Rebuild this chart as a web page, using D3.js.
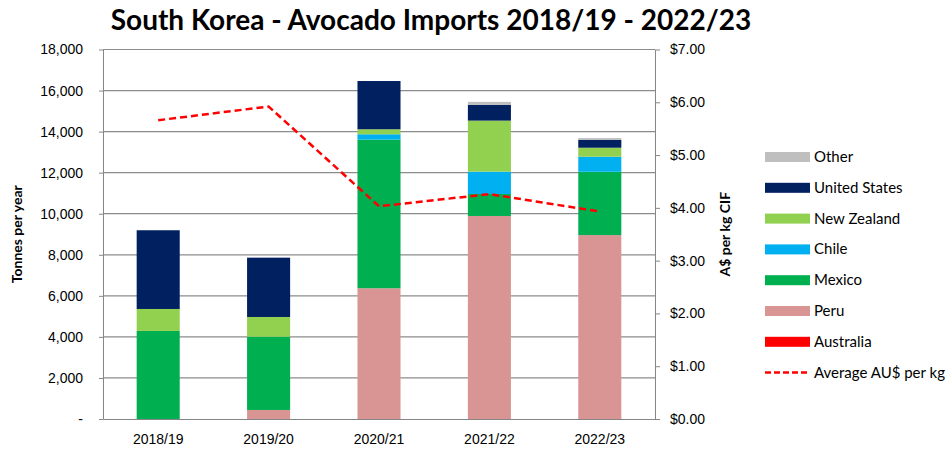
<!DOCTYPE html>
<html>
<head>
<meta charset="utf-8">
<script src="https://cdn.jsdelivr.net/npm/d3@7"></script>
<style>
  body { margin: 0; background: #fff; }
  svg { display: block; font-family: Lato, "Open Sans", sans-serif; }
  .axis text { font-size: 14px; fill: #000; }
  .axis path, .axis line { stroke: #868686; }
</style>
</head>
<body>
<div id="chart"></div>
<script>
// Data
const categories = ["2018/19", "2019/20", "2020/21", "2021/22", "2022/23"];
const australia = [0, 0, 0, 0, 0];
const peru = [0, 440, 6370, 9890, 8960];
const mexico = [4290, 3570, 7240, 1070, 3085];
const chile = [0, 0, 260, 1090, 730];
const newZealand = [1070, 960, 245, 2485, 440];
const unitedStates = [3835, 2890, 2350, 765, 390];
const other = [0, 0, 0, 150, 80];
const avgPrice = [5.66, 5.92, 4.03, 4.26, 3.93];

const leftTicks = [0, 2000, 4000, 6000, 8000, 10000, 12000, 14000, 16000, 18000];
const rightTicks = [0, 1, 2, 3, 4, 5, 6, 7];

const series = [
  { key: "Australia", values: australia, color: "#FF0000" },
  { key: "Peru", values: peru, color: "#D99594" },
  { key: "Mexico", values: mexico, color: "#00B050" },
  { key: "Chile", values: chile, color: "#00B0F0" },
  { key: "New Zealand", values: newZealand, color: "#92D050" },
  { key: "United States", values: unitedStates, color: "#002060" },
  { key: "Other", values: other, color: "#BFBFBF" }
];

const width = 952, height = 452;
const plot = { left: 103, right: 655, top: 49.5, bottom: 419 };

const svg = d3.select("#chart").append("svg")
  .attr("width", width)
  .attr("height", height);

// table for the stack
const table = categories.map((c, i) => {
  const row = { cat: c };
  series.forEach(s => row[s.key] = s.values[i]);
  return row;
});

const x = d3.scaleBand()
  .domain(categories)
  .range([plot.left, plot.right])
  .paddingInner(0.61)
  .paddingOuter(0.305);

const y = d3.scaleLinear().domain([0, 18000]).range([plot.bottom, plot.top]);
const y2 = d3.scaleLinear().domain([0, 7]).range([plot.bottom, plot.top]);

// gridlines
svg.append("g")
  .selectAll("line")
  .data(leftTicks.filter(d => d > 0))
  .join("line")
  .attr("x1", plot.left).attr("x2", plot.right)
  .attr("y1", d => y(d)).attr("y2", d => y(d))
  .attr("stroke", "#8c8c8c")
  .attr("stroke-width", 1.2);

// bars
const stacked = d3.stack().keys(series.map(s => s.key))(table);
const colorOf = d3.scaleOrdinal().domain(series.map(s => s.key)).range(series.map(s => s.color));

svg.append("g")
  .selectAll("g")
  .data(stacked)
  .join("g")
  .attr("fill", d => colorOf(d.key))
  .selectAll("rect")
  .data(d => d)
  .join("rect")
  .attr("x", d => x(d.data.cat))
  .attr("y", d => y(d[1]))
  .attr("width", x.bandwidth())
  .attr("height", d => y(d[0]) - y(d[1]));

// left axis
svg.append("g")
  .attr("class", "axis")
  .attr("transform", `translate(${plot.left},0)`)
  .call(d3.axisLeft(y).tickValues(leftTicks).tickSize(4).tickSizeOuter(0).tickPadding(16)
    .tickFormat(d => d === 0 ? "-" : d3.format(",")(d)));

// right axis
svg.append("g")
  .attr("class", "axis")
  .attr("transform", `translate(${plot.right},0)`)
  .call(d3.axisRight(y2).tickValues(rightTicks).tickSize(5).tickSizeOuter(0).tickPadding(10)
    .tickFormat(d => "$" + d3.format(".2f")(d)));

// bottom axis
svg.append("g")
  .attr("class", "axis")
  .attr("transform", `translate(0,${plot.bottom})`)
  .call(d3.axisBottom(x).tickSize(0).tickSizeOuter(0).tickPadding(15));

// line
const line = d3.line()
  .x((d, i) => x(categories[i]) + x.bandwidth() / 2)
  .y(d => y2(d));

svg.append("path")
  .datum(avgPrice)
  .attr("d", line)
  .attr("fill", "none")
  .attr("stroke", "#FF0000")
  .attr("stroke-width", 2.5)
  .attr("stroke-dasharray", "7,4");

// axis titles
svg.append("text")
  .attr("transform", `translate(22,${(plot.top + plot.bottom) / 2}) rotate(-90)`)
  .attr("text-anchor", "middle")
  .attr("font-size", 14)
  .attr("font-weight", "bold")
  .text("Tonnes per year");

svg.append("text")
  .attr("transform", `translate(730,${(plot.top + plot.bottom) / 2}) rotate(-90)`)
  .attr("text-anchor", "middle")
  .attr("font-size", 14)
  .attr("font-weight", "bold")
  .text("A$ per kg CIF");

// title
svg.append("text")
  .attr("x", 431)
  .attr("y", 30)
  .attr("text-anchor", "middle")
  .attr("font-size", 28)
  .attr("font-weight", "bold")
  .text("South Korea - Avocado Imports 2018/19 - 2022/23");

// legend
const legendItems = series.slice().reverse();
const legend = svg.append("g").attr("transform", "translate(765,157)");
const rowH = 30.8;

legendItems.forEach((s, i) => {
  const g = legend.append("g").attr("transform", `translate(0,${i * rowH})`);
  g.append("rect").attr("x", 0).attr("y", -5).attr("width", 45).attr("height", 10).attr("fill", s.color);
  g.append("text").attr("x", 49).attr("y", 5).attr("font-size", 15).text(s.key);
});
const lg = legend.append("g").attr("transform", `translate(0,${legendItems.length * rowH})`);
lg.append("line").attr("x1", 0).attr("x2", 45).attr("y1", 0).attr("y2", 0)
  .attr("stroke", "#FF0000").attr("stroke-width", 2.5).attr("stroke-dasharray", "6,3");
lg.append("text").attr("x", 49).attr("y", 5).attr("font-size", 15).text("Average AU$ per kg");
</script>
</body>
</html>
